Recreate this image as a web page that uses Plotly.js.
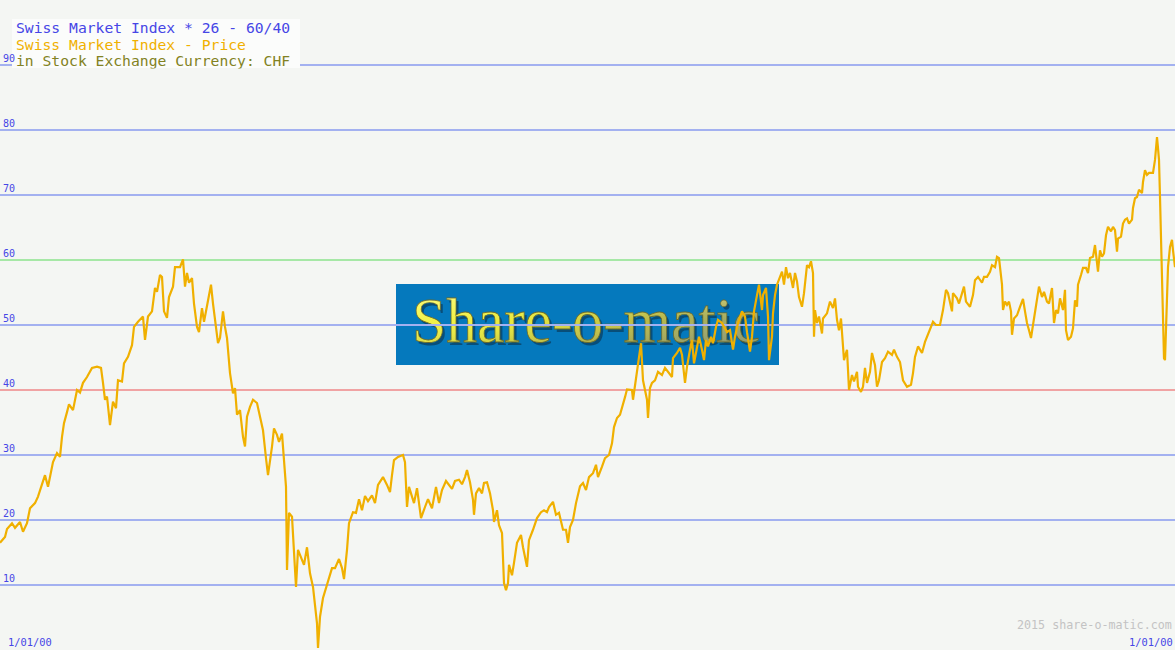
<!DOCTYPE html>
<html>
<head>
<meta charset="utf-8">
<script src="https://cdn.plot.ly/plotly-3.0.1.min.js"></script>
<style>
  html, body { margin: 0; padding: 0; background: #f4f6f3; }
  #chart { width: 1175px; height: 650px; }
</style>
</head>
<body>
<div id="chart"></div>
<script>
// ---- Data ----
const titleLines = [
  "Swiss Market Index * 26 - 60/40",
  "Swiss Market Index - Price",
  "in Stock Exchange Currency: CHF"
];
const dateLabels = ["1/01/00", "1/01/00"];
const watermark = "2015 share-o-matic.com";
const gridLevels = [10, 20, 30, 50, 70, 80, 90];
const supportLevel = 40;
const resistanceLevel = 60;
const tickLevels = [10, 20, 30, 40, 50, 60, 70, 80, 90];

// time position (0..1175 over the charted period)
const period = [
  0,5,7,12,15,20,23,27,30,35,
  38,42,45,48,51,53,57,60,62,64,
  67,69,73,75,77,80,83,87,92,97,
  101,103,105,107,110,113,116,118,122,124,
  128,132,134,138,143,145,148,152,155,157,
  160,162,164,167,169,173,175,180,183,185,
  187,189,192,194,197,199,202,204,207,211,
  213,216,218,220,223,225,227,230,233,235,
  237,240,243,245,247,250,253,257,259,263,
  266,268,272,274,277,279,282,284,286,287,
  289,292,293,296,298,302,304,307,310,313,
  315,317,318,320,323,327,332,335,339,342,
  344,347,349,353,356,359,362,365,368,372,
  375,378,383,387,390,392,394,398,403,405,
  407,409,412,414,417,418,421,425,428,432,
  436,439,442,446,452,455,459,462,465,467,
  470,473,474,476,479,482,484,487,490,493,
  494,497,499,502,503,504,506,508,509,512,
  514,517,521,523,527,529,533,537,541,544,
  547,549,553,556,559,563,566,568,570,573,
  576,580,583,586,589,593,596,598,602,605,
  609,612,614,617,620,623,625,627,632,633,
  636,638,641,643,645,647,648,650,652,655,
  658,662,665,668,672,673,677,680,682,685,
  687,690,692,694,697,699,702,704,706,708,
  711,713,716,718,722,725,727,730,733,735,
  738,742,745,747,750,752,754,757,759,762,
  763,766,768,769,772,773,775,777,779,782,
  784,786,788,790,793,795,797,799,802,804,
  807,809,811,813,814,815,817,819,822,823,
  827,830,833,835,837,839,841,843,844,846,
  847,849,852,854,857,858,861,863,865,867,
  870,872,875,877,879,882,885,888,892,894,
  897,900,903,907,911,913,915,918,922,925,
  928,933,936,940,943,946,948,952,953,957,
  959,962,964,966,970,973,975,978,982,984,
  987,990,992,995,997,999,1001,1002,1003,1005,
  1007,1009,1011,1012,1014,1017,1020,1023,1025,1027,
  1029,1031,1033,1035,1037,1039,1042,1044,1047,1049,
  1052,1054,1056,1058,1060,1062,1063,1065,1066,1068,
  1071,1073,1075,1077,1078,1081,1083,1086,1088,1090,
  1093,1095,1097,1098,1100,1102,1104,1106,1108,1111,
  1113,1115,1117,1118,1121,1123,1125,1127,1129,1132,
  1133,1135,1137,1139,1142,1143,1145,1147,1149,1153,
  1155,1157,1158,1159,1160,1161,1162,1163,1164,1165,
  1166,1167,1168,1170,1172,1173,1175
];
const price = [
  16.5,17.4,18.6,19.5,18.8,19.7,18.2,19.5,21.8,22.6,
  23.6,25.7,26.9,25.1,27.7,28.9,30.3,29.7,32.8,34.9,
  36.6,37.8,36.9,38.2,40.0,39.6,41.1,42.0,43.4,43.6,
  43.4,41.1,38.5,39.0,34.6,38.2,37.2,41.5,41.3,44.1,
  45.1,46.9,49.7,50.5,51.3,47.7,51.3,52.1,55.7,55.1,
  57.7,57.4,52.1,51.1,54.3,55.9,58.9,58.9,60.1,55.9,
  58.0,56.5,57.2,53.3,49.7,48.9,52.6,50.5,53.1,56.2,
  53.3,49.7,47.2,48.0,52.1,49.7,48.0,42.6,39.5,40.3,
  36.2,36.9,32.8,31.3,35.9,37.4,38.5,38.0,36.6,33.8,
  29.5,26.9,31.3,34.1,33.1,32.0,33.3,29.7,25.1,12.3,
  21.1,20.5,17.4,9.7,15.4,13.8,13.1,15.8,11.8,9.7,
  7.2,4.1,0.3,5.1,8.0,10.0,12.6,12.6,14.0,12.6,
  10.9,15.4,19.5,21.2,21.1,23.2,21.5,23.7,22.9,23.8,
  22.6,25.4,26.6,25.4,24.3,26.9,29.2,29.7,30.0,28.9,
  22.0,25.1,23.8,22.6,24.9,23.8,20.3,22.0,23.2,21.8,
  25.1,22.6,24.6,26.0,24.8,26.0,26.2,25.5,26.6,27.7,
  25.8,23.1,20.8,24.1,24.9,24.1,25.7,25.8,24.1,21.5,
  19.7,21.5,19.2,18.0,13.4,10.3,9.2,10.3,13.1,11.5,
  13.4,16.5,17.7,15.8,12.8,16.9,18.5,20.3,21.2,21.5,
  21.2,22.0,22.8,20.8,21.1,18.5,18.5,16.5,18.9,20.0,
  22.6,25.2,25.7,24.6,26.6,27.2,28.5,26.6,28.2,29.5,
  30.0,31.8,34.3,35.7,36.2,37.7,38.9,40.1,40.0,38.5,
  41.5,44.1,47.2,41.5,39.7,38.5,35.7,40.3,41.1,41.5,
  42.8,42.3,43.4,42.8,42.0,44.9,45.7,46.5,45.4,41.1,
  43.6,46.2,47.7,44.1,46.7,48.2,46.2,44.6,47.7,46.7,
  48.2,47.2,49.7,50.8,50.3,49.5,48.9,49.2,46.2,48.2,
  50.3,52.1,51.3,48.9,45.9,48.2,52.1,54.6,56.2,52.3,
  54.6,55.7,51.3,44.6,48.2,51.8,54.6,56.2,56.9,58.2,
  56.2,58.9,57.2,58.0,55.7,58.0,56.7,54.3,52.8,54.9,
  59.2,58.9,59.8,58.0,48.2,52.3,50.3,51.3,48.7,51.0,
  51.8,53.6,52.6,54.1,50.8,49.2,51.0,47.2,44.6,45.7,
  46.2,40.0,42.3,41.3,42.8,40.5,39.7,40.5,43.4,41.1,
  42.8,45.7,43.8,40.5,41.5,44.3,44.9,45.9,45.4,46.2,
  45.1,44.3,41.5,40.5,40.8,42.6,45.1,46.7,45.7,47.4,
  48.5,50.5,50.0,50.0,52.3,55.4,54.9,52.1,54.9,54.1,
  53.3,55.1,55.9,53.6,52.8,54.6,56.9,57.4,56.5,57.4,
  57.4,58.2,59.2,58.9,60.5,60.3,58.0,56.2,52.3,53.6,
  53.1,53.6,52.1,48.5,51.0,51.5,52.8,54.0,52.1,50.3,
  49.2,48.0,50.0,52.1,54.1,55.9,54.3,55.1,53.6,53.3,
  55.7,50.3,52.3,51.8,54.1,52.8,52.3,55.4,49.2,47.7,
  48.2,49.5,53.8,52.8,56.2,57.7,58.8,58.8,58.0,60.3,
  60.5,62.3,60.0,58.2,61.5,60.5,61.0,63.8,65.1,64.4,
  65.1,64.6,61.3,63.3,63.6,65.6,66.2,66.4,65.6,66.2,
  68.0,69.5,69.7,70.8,70.3,72.0,73.8,73.1,73.4,73.4,
  75.4,78.9,77.2,75.4,69.7,63.1,58.5,50.3,44.9,44.6,
  50.8,56.9,58.9,62.0,63.1,61.5,58.9
];

// ---- Styling ----
const W = 1175, H = 650;
const BG = '#f4f6f3';
const BLUE_TXT = '#4646e6';
const ORANGE = '#f0b000';
const OLIVE = '#828222';
const GRID_BLUE = '#a3b1f0';
const GRID_RED = '#f0a3a3';
const GRID_GREEN = '#a6e8a6';
const MONO = 'DejaVu Sans Mono, Liberation Mono, monospace';

// logo as inline SVG image (drawn beneath grid and line)
const LOGO_FONT = 'Liberation Serif, DejaVu Serif, serif';
const logoSvg =
  "<svg xmlns='http://www.w3.org/2000/svg' width='383' height='81' viewBox='0 0 383 81'>" +
  "<defs><linearGradient id='g' x1='0' y1='0' x2='1' y2='0.5'>" +
  "<stop offset='0' stop-color='#ffff58'/><stop offset='0.45' stop-color='#e8e83c'/>" +
  "<stop offset='0.75' stop-color='#b8b848'/><stop offset='1' stop-color='#98a470'/></linearGradient>" +
  "<linearGradient id='v' x1='0' y1='0' x2='0' y2='1'>" +
  "<stop offset='0' stop-color='#ffffff' stop-opacity='0.3'/><stop offset='0.5' stop-color='#ffffff' stop-opacity='0'/>" +
  "<stop offset='1' stop-color='#000000' stop-opacity='0.2'/></linearGradient></defs>" +
  "<rect width='383' height='81' fill='#0579bd'/>" +
  "<text x='18.5' y='60.5' font-family='" + LOGO_FONT + "' font-size='64' textLength='348' lengthAdjust='spacingAndGlyphs' fill='#0a3c5c' fill-opacity='0.7'>Share-o-matic</text>" +
  "<text x='16' y='58' font-family='" + LOGO_FONT + "' font-size='64' textLength='348' lengthAdjust='spacingAndGlyphs' fill='url(#g)' stroke='#6a6a28' stroke-width='0.8'>Share-o-matic</text>" +
  "<text x='16' y='58' font-family='" + LOGO_FONT + "' font-size='64' textLength='348' lengthAdjust='spacingAndGlyphs' fill='url(#v)'>Share-o-matic</text>" +
  "</svg>";
const logoSrc = 'data:image/svg+xml;charset=utf-8,' + encodeURIComponent(logoSvg);

const shapes = [];
gridLevels.forEach(v => shapes.push({
  type: 'line', layer: 'below', xref: 'paper', yref: 'y',
  x0: 0, x1: 1, y0: v, y1: v, line: { color: GRID_BLUE, width: 2 }
}));
shapes.push({ type: 'line', layer: 'below', xref: 'paper', yref: 'y',
  x0: 0, x1: 1, y0: supportLevel, y1: supportLevel, line: { color: GRID_RED, width: 2 } });
shapes.push({ type: 'line', layer: 'below', xref: 'paper', yref: 'y',
  x0: 0, x1: 1, y0: resistanceLevel, y1: resistanceLevel, line: { color: GRID_GREEN, width: 2 } });
// title box
shapes.push({ type: 'rect', layer: 'above', xref: 'paper', yref: 'paper',
  x0: 12 / W, x1: 300 / W, y0: 1 - 68 / H, y1: 1 - 19 / H,
  fillcolor: '#fbfcfb', line: { width: 0 } });

const annotations = [];
tickLevels.forEach(v => annotations.push({
  xref: 'paper', yref: 'y', x: 0, y: v, xanchor: 'left', yanchor: 'middle',
  xshift: 2, yshift: 7, showarrow: false, text: String(v), borderpad: 0,
  font: { family: MONO, size: 10, color: BLUE_TXT }
}));
const titleColors = [BLUE_TXT, ORANGE, OLIVE];
const titleCenters = [27.8, 44.6, 61.4];
titleLines.forEach((t, i) => annotations.push({
  xref: 'paper', yref: 'paper', x: 14.5 / W, y: 1 - titleCenters[i] / H,
  xanchor: 'left', yanchor: 'middle', showarrow: false, text: t,
  borderpad: 0, height: 15.5, valign: 'middle',
  font: { family: MONO, size: 14.7, color: titleColors[i] }
}));
annotations.push({
  xref: 'paper', yref: 'paper', x: 1174 / W, y: 1 - 625 / H,
  xanchor: 'right', yanchor: 'middle', showarrow: false, text: watermark,
  font: { family: MONO, size: 11.7, color: '#c3c3c3' }
});
annotations.push({
  xref: 'paper', yref: 'paper', x: 6 / W, y: 1 - 642 / H,
  xanchor: 'left', yanchor: 'middle', showarrow: false, text: dateLabels[0],
  font: { family: MONO, size: 10.4, color: BLUE_TXT }
});
annotations.push({
  xref: 'paper', yref: 'paper', x: 1175 / W, y: 1 - 642 / H,
  xanchor: 'right', yanchor: 'middle', showarrow: false, text: dateLabels[1],
  font: { family: MONO, size: 10.4, color: BLUE_TXT }
});

const trace = {
  type: 'scatter', mode: 'lines', x: period, y: price,
  line: { color: ORANGE, width: 2.2 }, hoverinfo: 'skip', showlegend: false
};

const layout = {
  width: W, height: H,
  margin: { l: 0, r: 0, t: 0, b: 0, pad: 0 },
  paper_bgcolor: BG, plot_bgcolor: BG,
  showlegend: false,
  xaxis: { range: [0, 1175], visible: false, fixedrange: true },
  yaxis: { range: [0, 100], visible: false, fixedrange: true },
  shapes: shapes,
  annotations: annotations,
  images: [{
    source: logoSrc, xref: 'paper', yref: 'paper',
    x: 396 / W, y: 1 - 284 / H, sizex: 383 / W, sizey: 81 / H,
    xanchor: 'left', yanchor: 'top', sizing: 'stretch', layer: 'below'
  }]
};

Plotly.newPlot('chart', [trace], layout, { staticPlot: true, displayModeBar: false });
</script>
</body>
</html>
